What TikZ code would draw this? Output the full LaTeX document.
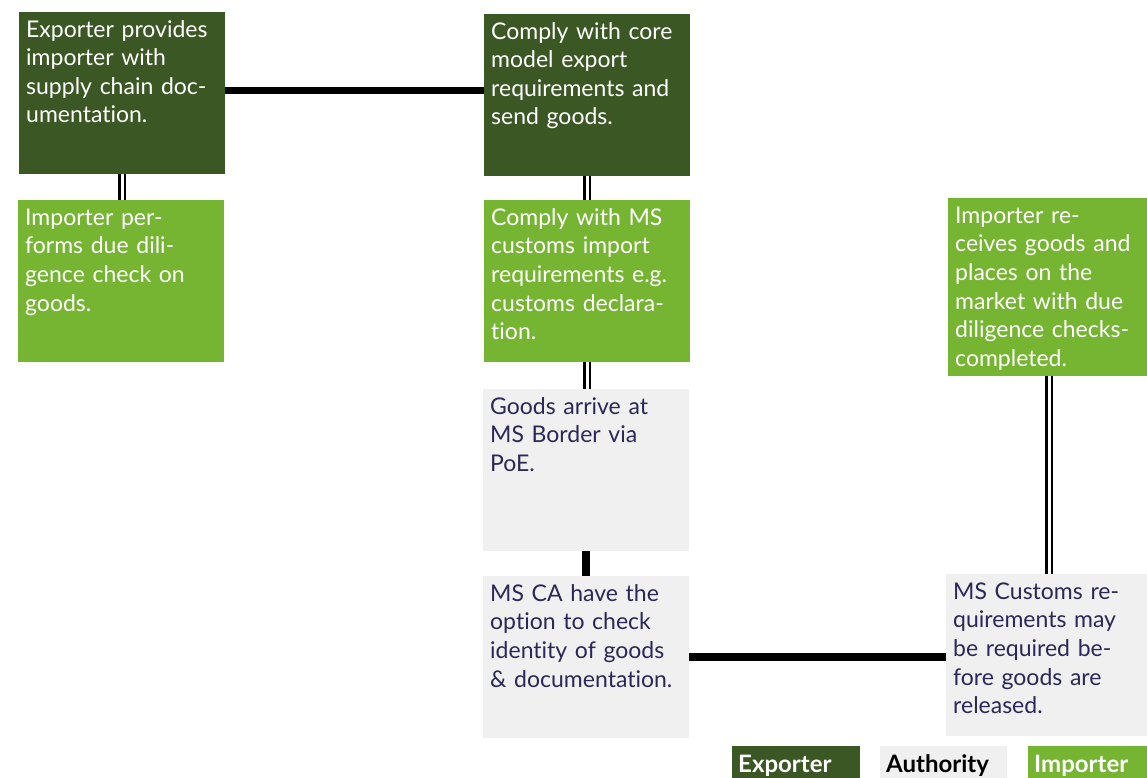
\documentclass[tikz,border=0pt]{standalone}
\usepackage{fontspec}
\setmainfont{Lato}[Ligatures=NoCommon]
\usepackage{tikz}
\usetikzlibrary{arrows.meta,positioning,calc}
\usepackage{xcolor}
\definecolor{expo}{RGB}{59,87,35}
\definecolor{impo}{RGB}{118,181,50}
\definecolor{auth}{RGB}{240,240,240}
\definecolor{navy}{RGB}{42,40,88}
\tikzset{
  stage/.style={anchor=north west,inner xsep=7pt,inner ysep=0pt,text width=192pt,
    align=left,text height=25pt,text depth=137pt,
    font=\fontsize{23}{28.6}\selectfont},
  expbox/.style={stage,fill=expo,text=white},
  impbox/.style={stage,fill=impo,text=white},
  authbox/.style={stage,fill=auth,text=navy},
  key/.style={anchor=north west,inner xsep=6pt,inner ysep=0pt,align=left,
    text height=26pt,text depth=14pt,font=\fontsize{24}{26}\selectfont\bfseries},
  link/.style={line width=7.5pt},
  dbl/.style={line width=2.5pt,double=white,double distance=3pt},
}
\begin{document}
\begin{tikzpicture}[x=1pt,y=-1pt]
\useasboundingbox[fill=white] (0,0) rectangle (1147,778);
% exporter side
\node[expbox] (b1) at (19,12) {Exporter provides\\importer with\\supply chain doc-\\umentation.};
\node[expbox] (b2) at (484,14) {Comply with core\\model export\\requirements and\\send goods.};
% importer side
\node[impbox] (b3) at (18,200) {Importer per-\\forms due dili-\\gence check on\\goods.};
\node[impbox] (b4) at (484,200) {Comply with MS\\customs import\\requirements e.g.\\customs declara-\\tion.};
\node[impbox,text width=188pt,text depth=153pt] (b7) at (948,198) {Importer re-\\ceives goods and\\places on the\\market with due\\diligence checks-\\completed.};
% authority
\node[authbox] (b5) at (483,389) {Goods arrive at\\MS Border via\\PoE.};
\node[authbox] (b6) at (483,576) {MS CA have the\\option to check\\identity of goods\\\& documentation.};
\node[authbox,text width=190pt] (b8) at (946,574) {MS Customs re-\\quirements may\\be required be-\\fore goods are\\released.};

\draw[link] ([yshift=2.5pt]b1.east) -- ([yshift=2.5pt]b1.east -| b2.west);
\draw[dbl] (b1.south) -- (b1.south |- b3.north);
\draw[dbl] (b2.south) -- (b2.south |- b4.north);
\draw[dbl] (b4.south) -- (b4.south |- b5.north);
\draw[link] (b5.south) -- (b5.south |- b6.north);
\draw[link] (b6.east) -- (b6.east -| b8.west);
\draw[dbl] (b7.south) -- (b7.south |- b8.north);

% legend
\node[key,fill=expo,text=white,text width=116pt] (kexp) at (732,746) {Exporter};
\node[key,fill=auth,text=black,text width=115pt] (kauth) at (880,746) {Authority};
\node[key,fill=impo,text=white,text width=113pt] (kimp) at (1028,746) {Importer};
\end{tikzpicture}
\end{document}
